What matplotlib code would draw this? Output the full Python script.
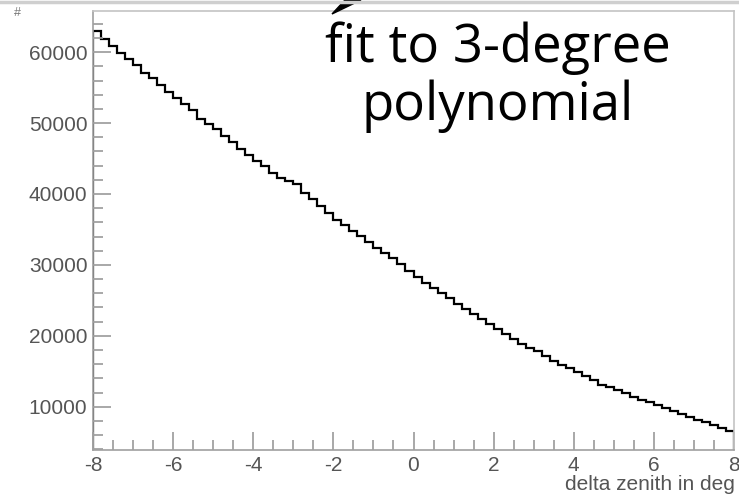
import numpy as np
import matplotlib
matplotlib.use("Agg")
import matplotlib.pyplot as plt
from matplotlib.patches import Polygon
from matplotlib.ticker import MultipleLocator

plt.rcParams["axes.unicode_minus"] = False

# histogram of delta zenith, 80 bins of 0.2 deg from -8 to 8
bin_edges = np.linspace(-8, 8, 81)
counts = [
    63000, 61900, 60800, 59900, 59000, 58200, 57100, 56300, 55300, 54400,
    53600, 52700, 51800, 50600, 49900, 49100, 48200, 47300, 46300, 45500,
    44600, 43900, 43000, 42200, 41900, 41400, 40200, 39300, 38300, 37300,
    36300, 35600, 34800, 34100, 33200, 32400, 31700, 31000, 30100, 29200,
    28300, 27400, 26800, 26000, 25300, 24500, 23800, 23100, 22400, 21700,
    21000, 20200, 19500, 18900, 18300, 17800, 17100, 16500, 15900, 15400,
    14900, 14300, 13800, 13100, 12800, 12400, 11900, 11400, 11000, 10600,
    10300, 9800, 9400, 9000, 8600, 8200, 7800, 7400, 7000, 6600,
]
xticks = [-8, -6, -4, -2, 0, 2, 4, 6, 8]
yticks = [10000, 20000, 30000, 40000, 50000, 60000]
x_title = "delta zenith in deg"
note = "fit to 3-degree\npolynomial"

W, H = 739, 497
fig = plt.figure(figsize=(W / 100, H / 100), dpi=100)
ax = fig.add_axes([93 / W, 1 - 450 / H, (734 - 93) / W, (450 - 11) / H])

ax.stairs(counts, bin_edges, color="black", linewidth=1.6)
ax.set_xlim(-8, 8)
ax.set_ylim(3900, 65800)

ax.set_xticks(xticks)
ax.set_yticks(yticks)
ax.xaxis.set_minor_locator(MultipleLocator(0.5))
ax.yaxis.set_minor_locator(MultipleLocator(2000))
ax.tick_params(which="both", direction="in", colors="#9a9a9a", width=1.2,
               top=False, right=False)
ax.tick_params(which="major", length=13, labelsize=15, labelcolor="#555555", pad=4)
ax.tick_params(which="minor", length=7)
for lab in ax.get_xticklabels() + ax.get_yticklabels():
    lab.set_family("Liberation Sans")

for s in ax.spines.values():
    s.set_color("#c4c4c4")
    s.set_linewidth(1.2)
ax.spines["left"].set_color("#a0a0a0")
ax.spines["bottom"].set_color("#a0a0a0")

fig.text(735 / W, 1 - 485 / H, x_title, ha="right", va="center", fontsize=15,
         color="#555555", family="Liberation Sans")
fig.text(17 / W, 1 - 13 / H, "#", ha="center", va="center", fontsize=9,
         color="#777777", family="Liberation Sans")

# annotation text and arrow from the slide
fig.text(498 / W, 1 - 77 / H, note, ha="center", va="center", fontsize=38,
         color="black", family="Open Sans", linespacing=1.12)
px = lambda x, y: (x / W, 1 - y / H)
fig.patches.append(Polygon([px(332, 14), px(345, 0), px(361, 0)], closed=True,
                           transform=fig.transFigure, color="black"))
fig.lines.append(plt.Line2D([0, 1], [1 - 1.5 / H, 1 - 1.5 / H],
                            transform=fig.transFigure, color="#cfcfcf", linewidth=2.5))

fig.savefig("out.png", dpi=100)
